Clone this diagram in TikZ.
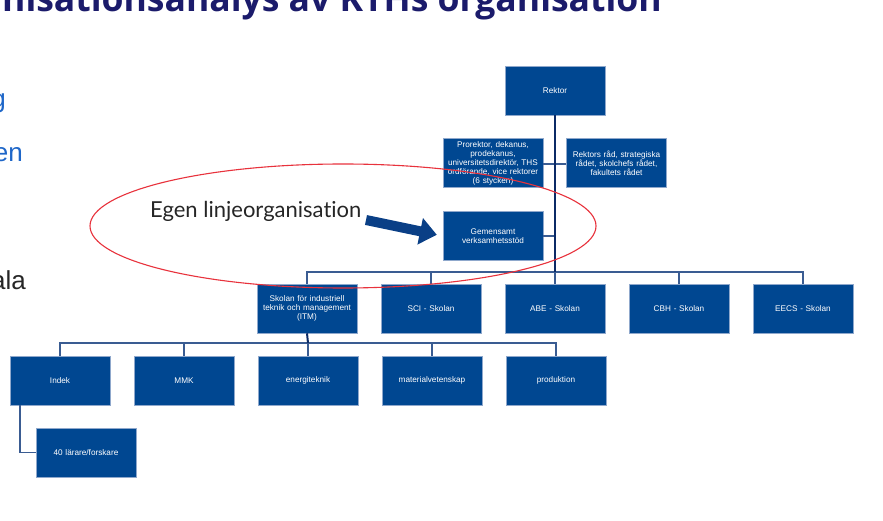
\documentclass[tikz,border=0pt]{standalone}
\usepackage{fontspec}
\setmainfont{Liberation Sans}
\newfontfamily\labfont[Ligatures={NoCommon,NoRare}]{Lato}
\newfontfamily\titlefont{Open Sans}
\usetikzlibrary{arrows.meta}
\definecolor{kthblue}{HTML}{004791}
\definecolor{boxedge}{HTML}{8FA8CC}
\definecolor{linkline}{HTML}{3A5C92}
\definecolor{mainline}{HTML}{0B2A66}
\definecolor{titlenavy}{HTML}{1B1B6B}
\definecolor{bulletblue}{HTML}{1E66C8}
\definecolor{ellred}{HTML}{E8323C}
\definecolor{arrownavy}{HTML}{0A3F86}
\begin{document}
\begin{tikzpicture}[x=1pt,y=-1pt,
  orgbox/.style={draw=boxedge, line width=0.6pt, fill=kthblue, text=white,
    minimum width=100pt, minimum height=49pt, inner sep=1pt,
    align=center, text width=98pt, font=\fontsize{8.2}{9}\selectfont},
  link/.style={draw=linkline, line width=1.4pt},
  mainlink/.style={draw=mainline, line width=2pt},
  frag/.style={anchor=base east, inner sep=0pt, font=\fontsize{26}{26}\selectfont}]
\clip (0,0) rectangle (883,521);
\fill[white] (0,0) rectangle (883,521);

% title and cut-off slide text
\node[anchor=base east, inner sep=0pt, text=titlenavy,
  font=\titlefont\bfseries\fontsize{35.5}{36}\selectfont] (title) at (662,12)
  {Organisationsanalys av KTHs organisation};
\node[frag, text=bulletblue] (f1) at (6,108) {g};
\node[frag, text=bulletblue] (f2) at (23,162) {en};
\node[frag, text=black!85] (f3) at (26,290) {ala};

% boxes
\node[orgbox] (rektor) at (555,90.5) {Rektor};
\node[orgbox] (pro) at (493,163) {Prorektor, dekanus,\\prodekanus,\\universitetsdirektör, THS\\ordförande, vice rektorer\\(6 stycken)};
\node[orgbox] (rad) at (616.5,163) {Rektors råd, strategiska\\rådet, skolchefs rådet,\\fakultets rådet};
\node[orgbox] (gem) at (493,236) {Gemensamt\\verksamhetsstöd};

\node[orgbox] (itm) at (307,308.5) {Skolan för industriell\\teknik och management\\(ITM)};
\node[orgbox] (sci) at (431,308.5) {SCI - Skolan};
\node[orgbox] (abe) at (555,308.5) {ABE - Skolan};
\node[orgbox] (cbh) at (679,308.5) {CBH - Skolan};
\node[orgbox] (eecs) at (803,308.5) {EECS - Skolan};

\node[orgbox] (indek) at (60,380.5) {Indek};
\node[orgbox] (mmk) at (184,380.5) {MMK};
\node[orgbox] (energi) at (308,380.5) {energiteknik};
\node[orgbox] (mat) at (432,380.5) {materialvetenskap};
\node[orgbox] (prod) at (556,380.5) {produktion};

\node[orgbox] (lar) at (86,452.5) {40 lärare/forskare};

% connectors
\coordinate (bar) at (555,272);
\draw[link] (pro.east |- 0,164) -- (rad.west |- 0,164);
\draw[link] (gem.east) -- (555,236);
\draw[link] (itm.north) |- (bar) -| (eecs.north);
\draw[link] (sci.north) -- (sci.north |- bar);
\draw[link] (cbh.north) -- (cbh.north |- bar);
\draw[link] (abe.north) -- (bar);
\draw[mainlink] (rektor.south) -- (bar);

\coordinate (dbar) at (308,343);
\draw[link] (indek.north) |- (dbar) -| (prod.north);
\draw[link] (mmk.north) -- (mmk.north |- dbar);
\draw[link] (mat.north) -- (mat.north |- dbar);
\draw[link] (energi.north) -- (dbar);
\draw[mainlink] (itm.south) -- (dbar);

\draw[link] (20,405) |- (lar.west);

% annotation
\node[anchor=base west, inner sep=0pt, text=black!85,
  font=\labfont\fontsize{22}{22}\selectfont] (egen) at (150,218) {Egen linjeorganisation};
\coordinate (astart) at (366,220);
\draw[arrownavy, line width=10pt, shorten >=6pt,
  -{Triangle[length=17pt,width=26pt]}] (astart) -- (gem.west);
\draw[ellred, line width=1.1pt] (343,226) ellipse [x radius=253, y radius=62];
\end{tikzpicture}
\end{document}
